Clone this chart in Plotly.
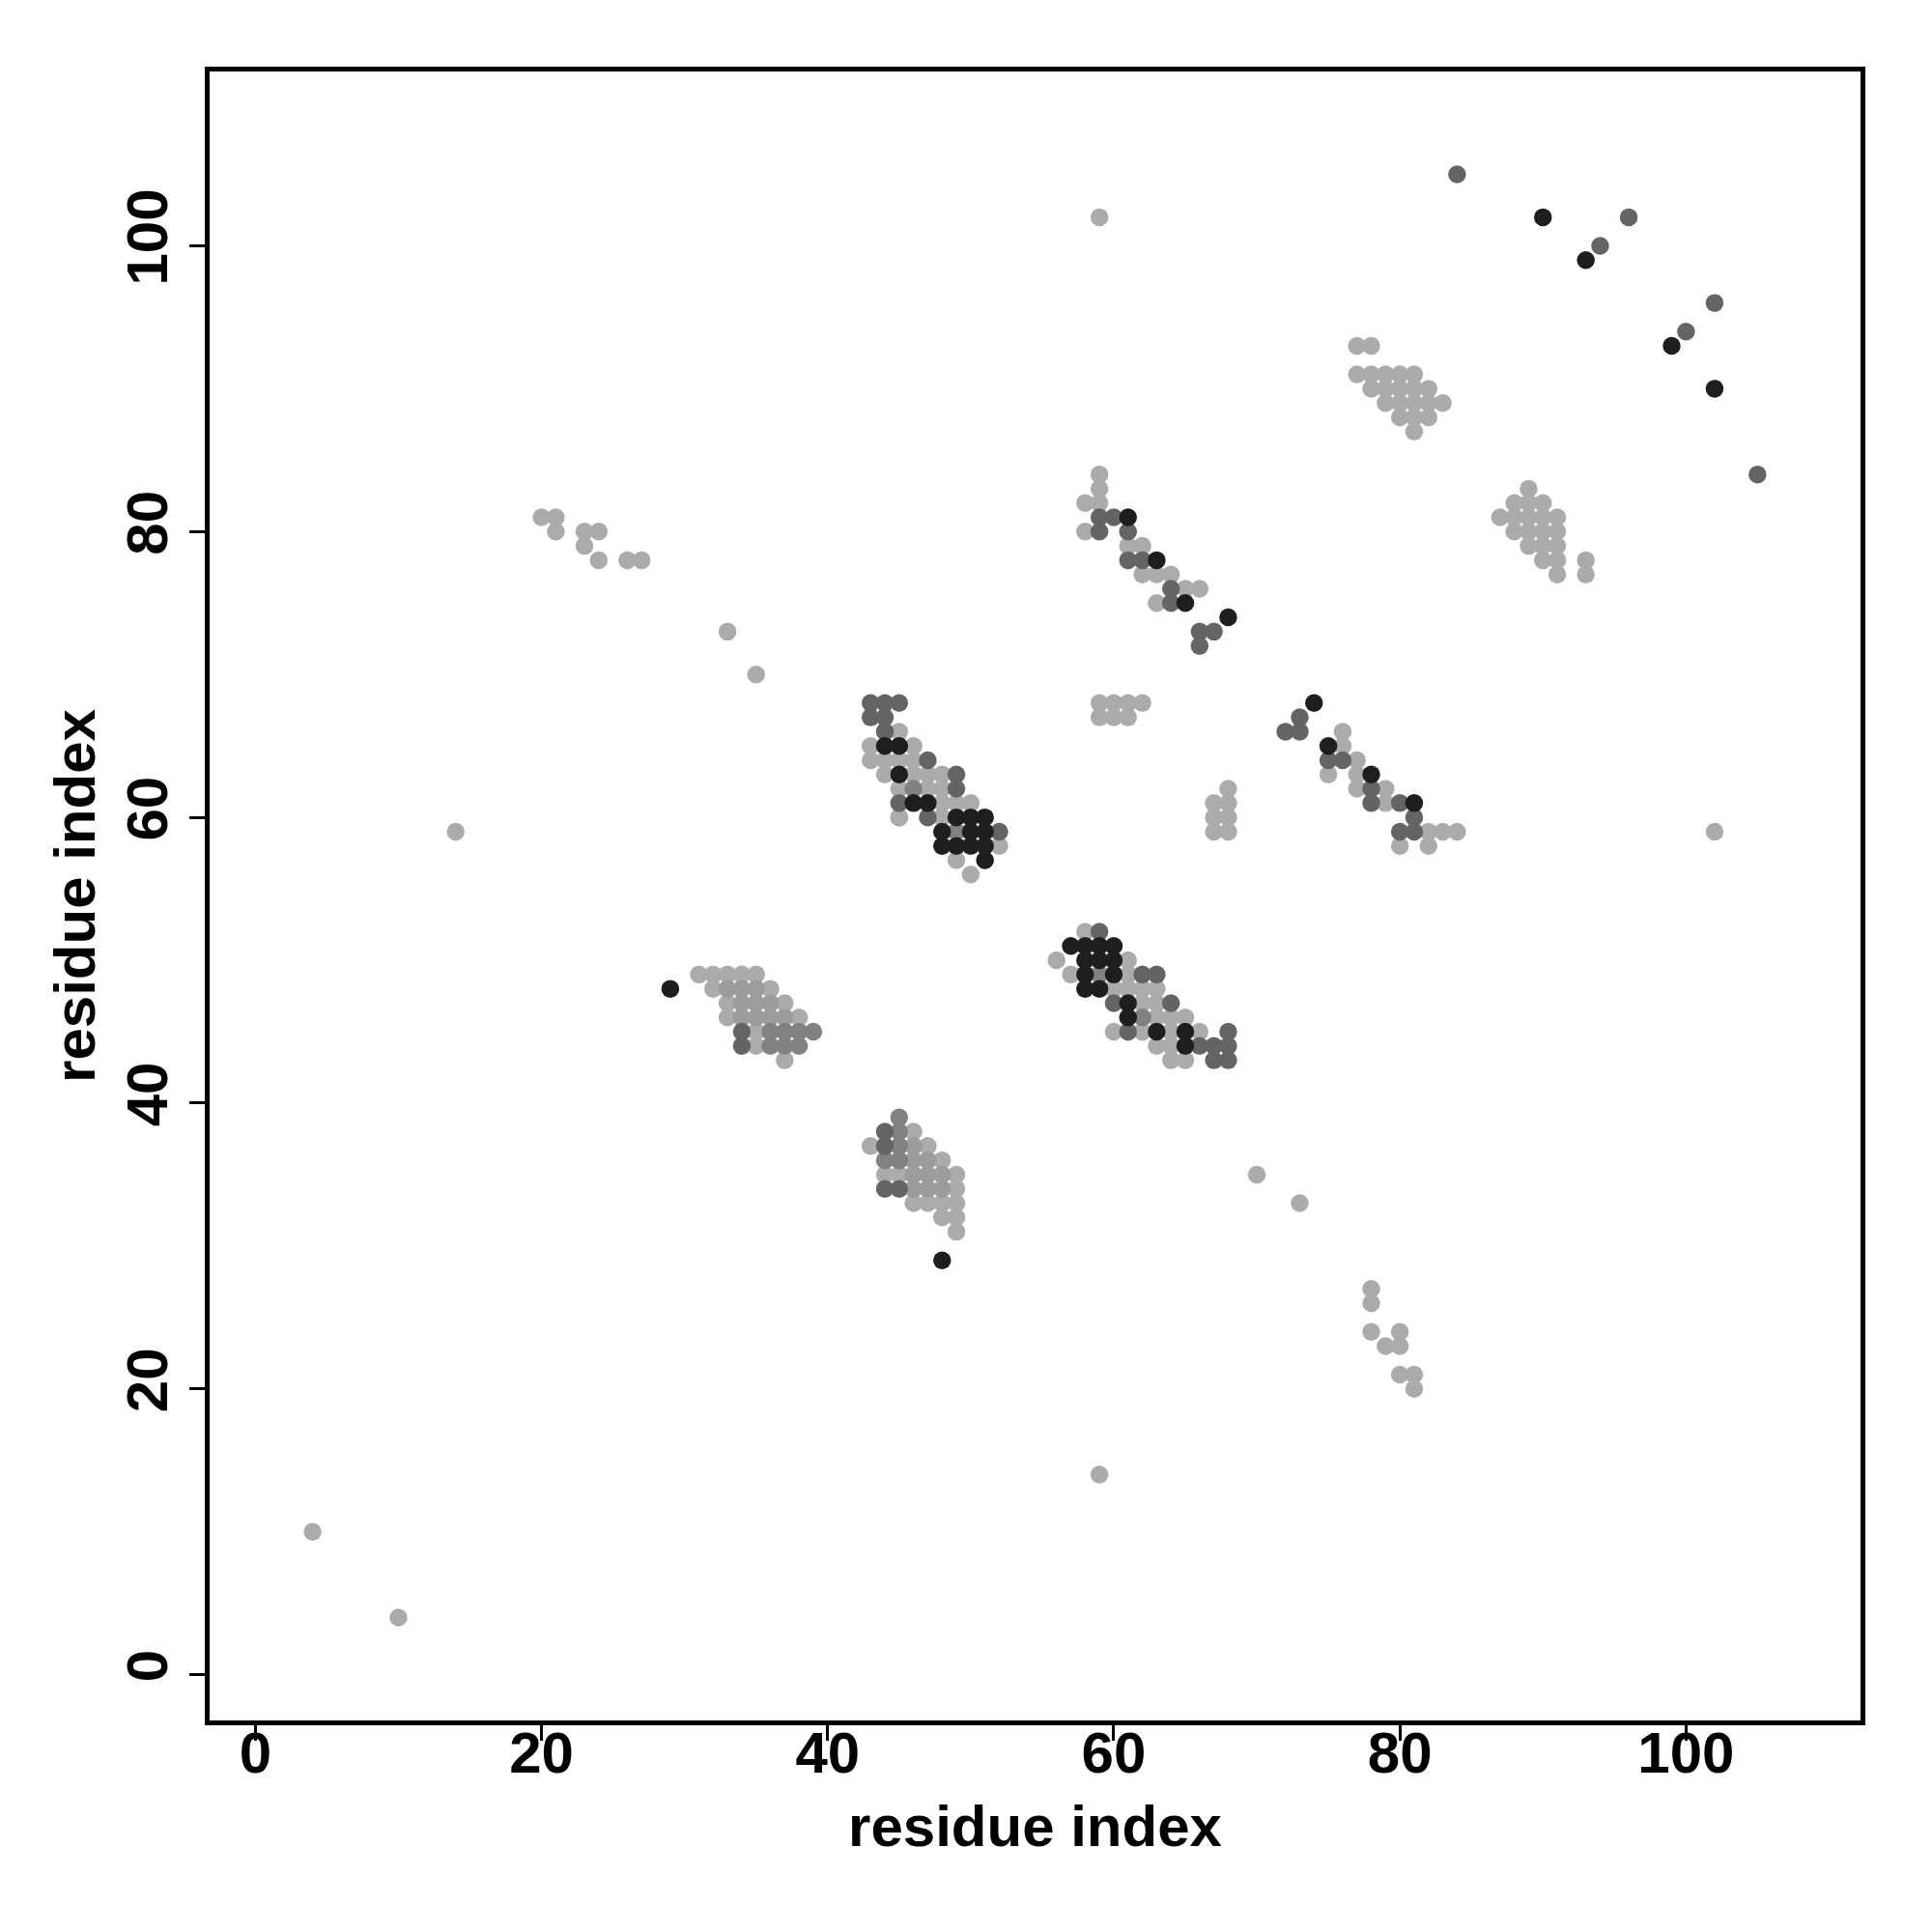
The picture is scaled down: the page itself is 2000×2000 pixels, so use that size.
import plotly.graph_objects as go

# ---- data: contact points grouped by grey level ----
light_x = [4, 10, 14, 33, 35, 59, 59, 70, 73, 102,
           20, 21, 21, 23, 24, 23, 24, 26, 27,
           78, 78, 78, 79, 80, 80, 80, 81, 81,
           59, 60, 61, 62, 59, 60, 61, 68, 67, 68, 67, 68, 67, 68,
           77, 78, 77, 78, 79, 80, 81, 78, 79, 80, 81, 82, 79, 80, 81, 82, 83, 80, 81, 82, 81,
           89, 88, 89, 90, 87, 88, 89, 90, 91, 88, 89, 90, 91, 89, 90, 91, 90, 91, 93, 91, 93,
           59, 59, 58, 59, 58, 61, 62, 62, 63, 64, 65, 66, 63,
           76, 76, 77, 75, 77, 77, 79, 79, 82, 83, 84, 80, 82,
           45, 43, 46, 43, 44, 45, 46, 44, 46, 47, 48, 45, 47, 48, 45, 48, 49, 50, 45, 48, 52, 49, 50,
           58, 56, 61, 57, 61, 60, 61, 62, 63, 62, 63, 63, 64, 65, 60, 62, 64, 66, 63, 64, 64, 65,
           31, 32, 33, 34, 35, 32, 36, 33, 37, 33, 38, 35, 35, 37,
           46, 43, 47, 48, 44, 45, 49, 49, 46, 47, 48, 49, 48, 49, 49]
light_y = [10, 4, 59, 73, 70, 102, 14, 35, 33, 59,
           81, 81, 80, 80, 80, 79, 78, 78, 78,
           27, 26, 24, 23, 24, 23, 21, 21, 20,
           68, 68, 68, 68, 67, 67, 67, 62, 61, 61, 60, 60, 59, 59,
           93, 93, 91, 91, 91, 91, 91, 90, 90, 90, 90, 90, 89, 89, 89, 89, 89, 88, 88, 88, 87,
           83, 82, 82, 82, 81, 81, 81, 81, 81, 80, 80, 80, 80, 79, 79, 79, 78, 78, 78, 77, 77,
           84, 83, 82, 82, 80, 79, 79, 77, 77, 77, 76, 76, 75,
           66, 65, 64, 63, 63, 62, 62, 61, 59, 59, 59, 58, 58,
           66, 65, 65, 64, 64, 64, 64, 63, 63, 63, 63, 62, 62, 62, 60, 61, 61, 61, 60, 60, 58, 57, 56,
           52, 50, 50, 49, 49, 48, 48, 48, 48, 47, 47, 46, 46, 46, 45, 45, 45, 45, 44, 44, 43, 43,
           49, 49, 49, 49, 49, 48, 48, 47, 47, 46, 46, 45, 44, 43,
           38, 37, 37, 36, 35, 35, 35, 34, 33, 33, 33, 33, 32, 32, 31]

light2_x = [33, 34, 35, 34, 36, 35, 34, 37, 35, 36,
            46, 46, 47, 46, 47, 48, 46, 47, 48]
light2_y = [48, 48, 48, 47, 47, 47, 46, 46, 46, 46,
            37, 36, 36, 35, 35, 35, 34, 34, 34]

mid_x = [46, 49, 59, 62,
         36, 37, 38, 39, 36, 37, 38,
         45, 45, 45, 44, 45]
mid_y = [62, 59, 49, 46,
         45, 45, 45, 45, 44, 44, 44,
         39, 38, 37, 36, 36]

dark_x = [43, 44, 45, 43, 44, 44, 47, 49, 49, 45, 47, 52,
          59, 62, 63, 60, 64, 61, 68, 66, 67, 68, 67, 68,
          34, 34, 44, 44, 44, 45,
          59, 60, 59, 61, 61, 62, 64, 64, 66, 67, 66,
          73, 72, 73, 75, 76, 78, 78, 80, 81, 80, 81,
          84, 96, 94, 102, 100, 105]
dark_y = [68, 68, 68, 67, 67, 66, 64, 63, 62, 61, 60, 59,
          52, 49, 49, 47, 47, 45, 45, 44, 44, 44, 43, 43,
          45, 44, 38, 37, 34, 34,
          81, 81, 80, 80, 78, 78, 76, 75, 73, 73, 72,
          67, 66, 66, 64, 64, 62, 61, 61, 60, 59, 59,
          105, 102, 100, 96, 94, 84]

black_x = [44, 45, 45, 46, 47, 49, 50, 51, 48, 50, 51, 48, 49, 50, 51, 51,
           57, 58, 59, 60, 58, 59, 60, 58, 60, 58, 59, 61, 61, 63, 65, 65,
           29, 48,
           61, 63, 65, 68,
           74, 75, 78, 81,
           90, 93, 99, 102]
black_y = [65, 65, 63, 61, 61, 60, 60, 60, 59, 59, 59, 58, 58, 58, 58, 57,
           51, 51, 51, 51, 50, 50, 50, 49, 49, 48, 48, 47, 46, 45, 45, 44,
           48, 29,
           81, 78, 75, 74,
           68, 65, 63, 61,
           102, 99, 93, 90]

tick_vals = [0, 20, 40, 60, 80, 100]
axis_title = "residue index"

groups = [
    (light_x, light_y, "#ababab"),
    (light2_x, light2_y, "#9c9c9c"),
    (mid_x, mid_y, "#818181"),
    (dark_x, dark_y, "#646464"),
    (black_x, black_y, "#1e1e1e"),
]

fig = go.Figure()
for gx, gy, col in groups:
    fig.add_trace(go.Scatter(
        x=gx, y=gy, mode="markers",
        marker=dict(size=18.5, color=col, line=dict(width=0)),
        showlegend=False, hoverinfo="skip",
    ))

font_bold = dict(family="Liberation Sans, Arial, sans-serif", size=60, color="black", weight="bold")

axis_common = dict(
    range=[-3.2, 112.2],
    tickvals=tick_vals,
    ticks="outside", ticklen=16, tickwidth=3, tickcolor="black",
    showline=True, linecolor="black", linewidth=4.5, mirror=True,
    showgrid=False, zeroline=False,
    tickfont=font_bold,
)

fig.update_layout(
    width=2000, height=2000,
    paper_bgcolor="white", plot_bgcolor="white",
    margin=dict(l=209, r=82, t=66, b=227, autoexpand=False),
    xaxis=dict(**axis_common, ticklabelstandoff=-39,
               title=dict(text=axis_title, font=font_bold, standoff=24)),
    yaxis=dict(**axis_common, tickangle=-90, ticklabelstandoff=-1,
               title=dict(text=axis_title, font=font_bold, standoff=3)),
)

fig.write_html("out.html")
